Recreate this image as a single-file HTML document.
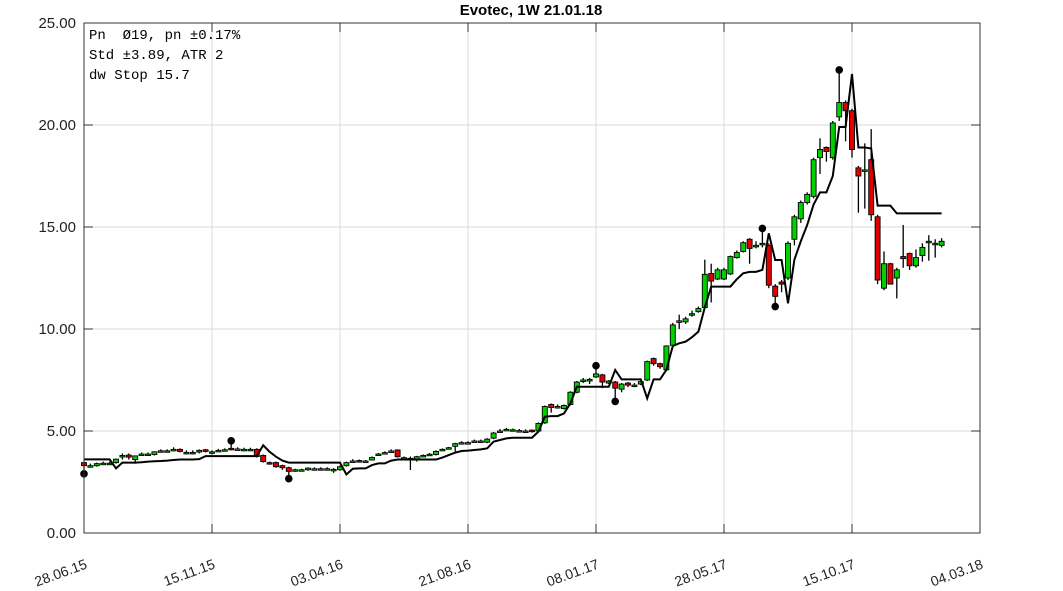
<!DOCTYPE html>
<html><head><meta charset="utf-8"><style>
html,body{margin:0;padding:0;background:#fff;}
svg{display:block;font-family:"Liberation Sans",sans-serif;}
.pre{white-space:pre;}
</style></head><body>
<svg id="chart" width="1063" height="591" viewBox="0 0 1063 591">
<text x="531" y="15" text-anchor="middle" font-weight="bold" font-size="15">Evotec, 1W 21.01.18</text>
<g id="grid"></g><g id="marks"></g>
<rect x="84" y="23" width="896" height="510" fill="none" stroke="#333" stroke-width="1"/>
<g id="axes"></g>
<g font-family="'Liberation Mono',monospace" font-size="14">
<text class="pre" x="89" y="39" xml:space="preserve">Pn  Ø19, pn ±0.17%</text>
<text class="pre" x="89" y="59">Std ±3.89, ATR 2</text>
<text class="pre" x="89" y="79">dw Stop 15.7</text>
</g>
</svg>
<script>
const opens=[3.45,3.3,3.3,3.4,3.42,3.45,3.75,3.82,3.6,3.85,3.85,3.85,4.0,4.0,4.08,4.1,3.95,3.95,3.97,4.08,3.92,4.03,4.06,4.15,4.1,4.1,4.08,4.1,3.8,3.45,3.45,3.3,3.2,3.08,3.08,3.1,3.13,3.13,3.13,3.1,3.1,3.3,3.5,3.55,3.5,3.58,3.85,3.92,4.0,4.07,3.67,3.64,3.6,3.78,3.84,3.85,4.08,4.16,4.25,4.41,4.41,4.49,4.49,4.45,4.65,4.98,5.06,5.04,5.0,4.98,5.04,5.0,5.4,6.3,6.18,6.1,6.3,6.9,7.45,7.45,7.65,7.75,7.35,7.4,7.05,7.35,7.23,7.3,7.5,8.55,8.3,8.0,9.2,10.35,10.35,10.7,10.85,11.05,12.72,12.45,12.45,12.7,13.5,13.8,14.4,14.05,14.15,14.1,12.1,12.3,12.5,14.4,15.4,16.2,16.5,18.4,18.9,18.4,20.4,21.1,20.7,17.9,17.75,18.3,15.5,12.0,13.2,12.5,13.55,13.7,13.1,13.6,14.28,14.18,14.1];
const closes=[3.3,3.3,3.4,3.42,3.42,3.62,3.8,3.72,3.78,3.87,3.87,3.98,4.03,4.03,4.1,4.0,3.95,3.95,4.05,4.0,3.98,4.05,4.08,4.1,4.12,4.1,4.1,3.75,3.5,3.42,3.25,3.2,3.02,3.1,3.1,3.18,3.15,3.15,3.15,3.12,3.25,3.45,3.53,3.5,3.53,3.7,3.87,3.94,4.02,3.74,3.69,3.66,3.74,3.8,3.86,4.0,4.1,4.18,4.38,4.43,4.43,4.51,4.51,4.6,4.9,5.0,5.08,5.06,5.02,5.0,4.98,5.37,6.2,6.15,6.2,6.25,6.9,7.4,7.5,7.53,7.8,7.4,7.45,7.1,7.3,7.25,7.25,7.42,8.4,8.3,8.15,9.17,10.2,10.4,10.5,10.75,11.0,12.68,12.35,12.9,12.9,13.55,13.75,14.23,13.95,14.1,14.2,12.15,11.6,12.2,14.2,15.5,16.2,16.6,18.3,18.8,18.7,20.1,21.1,20.7,18.8,17.5,17.8,15.6,12.4,13.2,12.2,12.9,13.45,13.1,13.5,14.0,14.3,14.2,14.3];
const highs=[3.5,3.4,3.45,3.5,3.5,3.65,3.9,3.9,3.8,3.95,3.95,4.0,4.1,4.1,4.2,4.15,4.05,4.05,4.1,4.12,4.05,4.12,4.15,4.52,4.2,4.18,4.18,4.15,3.85,3.5,3.5,3.35,3.25,3.15,3.15,3.22,3.22,3.22,3.22,3.18,3.3,3.5,3.62,3.6,3.58,3.75,3.92,4.0,4.1,4.1,3.75,3.75,3.78,3.85,3.92,4.05,4.15,4.22,4.42,4.5,4.5,4.58,4.58,4.65,4.95,5.1,5.15,5.12,5.1,5.08,5.08,5.42,6.25,6.35,6.3,6.3,6.95,7.45,7.6,7.6,8.2,7.8,7.5,7.45,7.35,7.4,7.35,7.45,8.45,8.6,8.35,9.2,10.3,10.7,10.6,10.9,11.1,13.4,13.2,13.0,13.0,13.6,13.85,14.3,14.45,14.3,14.93,14.2,12.2,12.4,14.3,15.6,16.3,16.7,18.4,19.35,18.95,20.2,22.7,21.2,20.8,18.0,19.1,19.8,15.6,13.8,13.25,13.0,15.1,13.75,13.9,14.2,14.6,14.4,14.45];
const lows=[2.9,3.2,3.25,3.35,3.35,3.4,3.6,3.6,3.4,3.8,3.8,3.8,3.95,3.95,4.0,3.95,3.85,3.85,3.9,3.95,3.85,3.98,4.0,4.05,4.05,4.02,4.02,3.7,3.45,3.35,3.2,3.1,2.66,3.0,3.02,3.05,3.08,3.08,3.08,2.95,3.05,3.25,3.45,3.45,3.45,3.55,3.8,3.88,3.95,3.7,3.6,3.09,3.5,3.72,3.8,3.8,4.02,4.1,4.0,4.36,4.36,4.44,4.44,4.4,4.6,4.95,5.0,4.98,4.95,4.92,4.92,4.95,5.35,5.9,6.1,6.05,6.25,6.85,7.35,7.3,7.6,7.1,7.3,6.45,6.9,7.15,7.15,7.25,7.45,8.2,8.05,7.95,9.15,10.0,10.25,10.6,10.8,11.0,11.3,12.4,12.4,12.65,13.45,13.75,13.2,13.95,14.0,12.0,11.1,11.8,12.4,14.1,15.2,16.1,16.4,17.6,18.2,18.3,20.2,19.2,18.4,15.7,15.9,15.3,12.2,11.9,12.2,11.5,13.0,12.9,13.0,13.3,13.35,13.5,14.0];
const stopLine=[3.61,3.61,3.61,3.61,3.61,3.17,3.45,3.45,3.45,3.47,3.5,3.52,3.53,3.55,3.58,3.6,3.6,3.6,3.62,3.77,3.77,3.77,3.77,3.77,3.77,3.77,3.77,3.77,4.3,3.98,3.74,3.55,3.45,3.45,3.45,3.45,3.45,3.45,3.45,3.45,3.45,2.87,3.15,3.17,3.17,3.33,3.41,3.41,3.55,3.6,3.6,3.6,3.6,3.6,3.6,3.6,3.7,3.82,3.94,4.02,4.04,4.07,4.1,4.15,4.48,4.56,4.64,4.67,4.67,4.67,4.67,4.97,5.7,5.73,5.73,5.86,6.36,7.17,7.17,7.17,7.17,7.17,7.17,7.99,7.53,7.53,7.53,7.53,6.6,7.53,7.53,8.0,9.17,9.3,9.38,9.6,9.87,11.06,12.08,12.08,12.08,12.08,12.44,12.73,12.8,12.8,12.9,14.69,13.38,13.38,11.26,13.4,14.3,15.1,16.1,16.7,16.7,17.5,19.9,19.9,22.5,18.9,18.9,18.85,16.05,16.05,16.05,15.67,15.67,15.67,15.67,15.67,15.67,15.67,15.67];
const dotWeeks=[0,23,32,80,83,106,108,118];
const dotValues=[2.9,4.52,2.66,8.2,6.45,14.93,11.1,22.7];
const yTicks=[0,5,10,15,20,25];
const xTickLabels=["28.06.15","15.11.15","03.04.16","21.08.16","08.01.17","28.05.17","15.10.17","04.03.18"];

const NS="http://www.w3.org/2000/svg";
const X0=84,X1=980,Y0=533,Y1=23,WEEKS=140;
const xs=w=>X0+(X1-X0)*w/WEEKS;
const ys=v=>Y0-(Y0-Y1)*v/25;
function mk(tag,attrs,parent){const e=document.createElementNS(NS,tag);for(const k in attrs)e.setAttribute(k,attrs[k]);parent.appendChild(e);return e;}
const grid=document.getElementById('grid'),marks=document.getElementById('marks'),axes=document.getElementById('axes');

yTicks.forEach(v=>{
  const y=ys(v);
  const g=mk('line',{x1:X0,x2:X1,y1:y,y2:y,stroke:'#d8d8d8','stroke-width':1},grid);
  
  
  const t1=mk('line',{x1:X0,x2:X0+9,y1:y,y2:y,stroke:'#333'},axes);
  
  
  const t2=mk('line',{x1:X1-9,x2:X1,y1:y,y2:y,stroke:'#333'},axes);
  
  
  const tx=mk('text',{x:76,y:y+5,'text-anchor':'end','font-size':15,fill:'#222'},axes);
  tx.textContent=v.toFixed(2);
  
  
});
xTickLabels.forEach((lab,i)=>{
  const x=xs(i*20);
  const g=mk('line',{x1:x,x2:x,y1:Y1,y2:Y0,stroke:'#d8d8d8','stroke-width':1},grid);
  
  
  const t1=mk('line',{x1:x,x2:x,y1:Y0-9,y2:Y0,stroke:'#333'},axes);
  
  
  const t2=mk('line',{x1:x,x2:x,y1:Y1,y2:Y1+9,stroke:'#333'},axes);
  
  
  const ax=x+4,ay=568;
  const tx=mk('text',{x:ax,y:ay,'text-anchor':'end','font-size':14,fill:'#222',transform:`rotate(-20 ${ax} ${ay})`},axes);
  tx.textContent=lab;
  
  
});

closes.forEach((c,i)=>{
  const o=opens[i],x=xs(i);
  const w=mk('line',{x1:x,x2:x,y1:ys(highs[i]),y2:ys(lows[i]),stroke:'#000','stroke-width':1.3},marks);
  
  
  const top=ys(Math.max(o,c)),bot=ys(Math.min(o,c));
  const b=mk('rect',{x:x-2.5,y:top,width:5,height:Math.max(bot-top,1.5),fill:c>=o?'#00d000':'#e00000',stroke:'#000','stroke-width':0.9},marks);
  
  
});
const pts=stopLine.map((v,i)=>xs(i)+','+ys(v)).join(' ');
const pl=mk('polyline',{points:pts,fill:'none',stroke:'#000','stroke-width':2},marks);


dotWeeks.forEach((w,i)=>{
  const d=mk('circle',{cx:xs(w),cy:ys(dotValues[i]),r:3.8,fill:'#000'},marks);
  
  
});
</script>
</body></html>
